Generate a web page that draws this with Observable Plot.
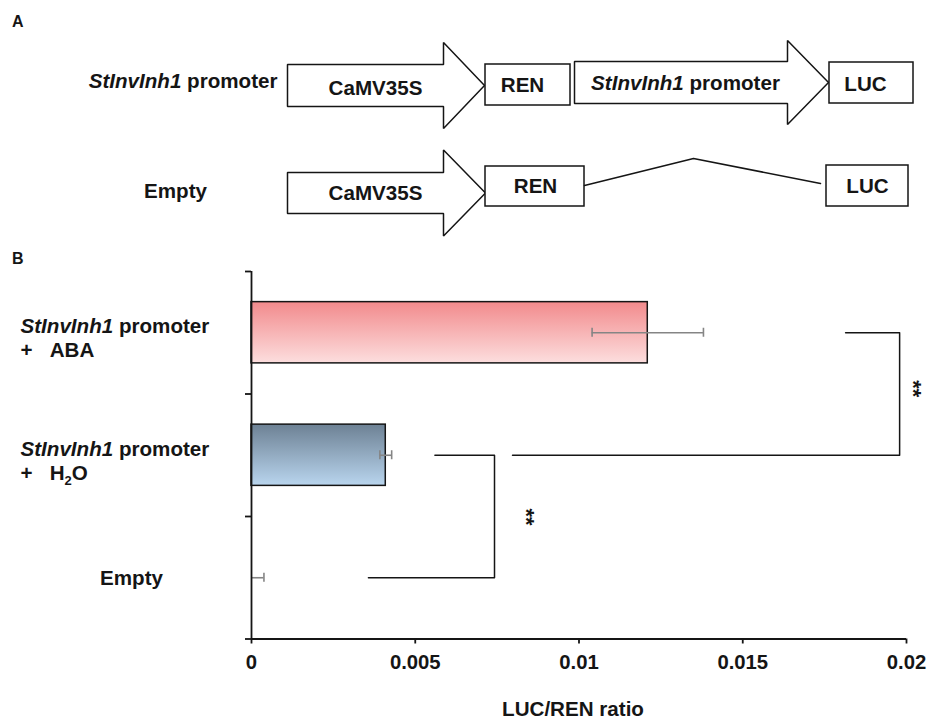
<!DOCTYPE html>
<html><head><meta charset="utf-8">
<script src="https://cdn.jsdelivr.net/npm/d3@7"></script>
<script src="https://cdn.jsdelivr.net/npm/@observablehq/plot@0.6"></script>
<style>
body{margin:0;background:#fff;}
#chart svg{display:block;}
</style></head><body><div id="chart"></div>
<script>
// ---------------- Panel B data ----------------
const categories = ["StInvInh1 promoter + ABA", "StInvInh1 promoter + H2O", "Empty"];
const ratio = [0.0121, 0.0041, 0.00003];
const sdev = [0.0017, 0.00018, 0.00035];
const labelLine1 = ["StInvInh1 promoter", "StInvInh1 promoter", "Empty"];
const labelLine2 = ["+\u00a0\u00a0\u00a0ABA", "+\u00a0\u00a0\u00a0H2O", ""];
const gradTop = ["#f28a8c", "#6d8194", "#ffffff"];
const gradBottom = ["#fcdede", "#b9d5ee", "#ffffff"];
const xTicks = [0, 0.005, 0.01, 0.015, 0.02];
const xTickLabels = ["0", "0.005", "0.01", "0.015", "0.02"];
const xTitle = "LUC/REN ratio";
// significance brackets
const bracketUpper = [1, 0];          // category index of upper arm
const bracketLower = [2, 1];          // category index of lower arm
const bracketUpperX = [0.0056, 0.01814];
const bracketLowerX = [0.00357, 0.00797];
const bracketSpineX = [0.00742, 0.01979];
const bracketLabel = ["**", "**"];
const bracketLabelX = [0.00839, 0.0202];
const bracketLabelY = [2.005, 0.957];

// ---------------- Panel A (schematic) data, diagram units ----------------
const arrowLabels = ["CaMV35S", "StInvInh1 promoter", "CaMV35S"];
const arrowX0 = [287, 574, 287];
const arrowHeadX = [443, 787, 443];
const arrowTipX = [484, 828, 485];
const arrowMidY = [85, 82, 192.5];
const arrowBodyHalf = [21, 21, 20.5];
const arrowHeadHalf = [43, 42, 43];
const arrowTextX = [375, 685, 375];
const arrowTextY = [87.5, 83, 192.5];
const boxLabels = ["REN", "LUC", "REN", "LUC"];
const boxX1 = [485, 829, 485, 826];
const boxX2 = [570, 913, 584, 908];
const boxY1 = [64, 62, 166, 165];
const boxY2 = [105, 103, 206, 206];
const boxTextX = [522, 865, 535, 867];
const boxTextY = [85, 84, 186, 186];
const constructNames = ["StInvInh1 promoter", "Empty"];
const constructX = [277, 175];
const constructY = [81, 191];
const linkerX = [584, 693, 820];
const linkerY = [185, 158, 183];

const FONT = "'Liberation Sans', Arial, Helvetica, sans-serif";
const INK = "#151515";
const FS = 20.6;

// ---------------- Panel A ----------------
const arrowPts = [];
arrowLabels.forEach((lab, i) => {
  const x0 = arrowX0[i], xh = arrowHeadX[i], xt = arrowTipX[i], yc = arrowMidY[i];
  const b = arrowBodyHalf[i], h = arrowHeadHalf[i];
  [[x0, yc], [x0, yc - b], [xh, yc - b], [xh, yc - h], [xt, yc], [xh, yc + h], [xh, yc + b], [x0, yc + b], [x0, yc]]
    .forEach(([x, y]) => arrowPts.push({id: i, x, y}));
});
const boxes = boxLabels.map((lab, i) => ({lab, x1: boxX1[i], x2: boxX2[i], y1: boxY1[i], y2: boxY2[i], tx: boxTextX[i], ty: boxTextY[i]}));
const arrowTexts = arrowLabels.map((lab, i) => ({lab, x: arrowTextX[i], y: arrowTextY[i]}));
const linker = linkerX.map((x, i) => ({x, y: linkerY[i]}));

const panelA = Plot.plot({
  width: 928, height: 245,
  marginTop: 0, marginRight: 0, marginBottom: 0, marginLeft: 0,
  x: {domain: [0, 928], axis: null},
  y: {domain: [0, 245], reverse: true, axis: null},
  style: {fontFamily: FONT, fontSize: FS + "px", fontWeight: "bold", background: "white", color: INK},
  marks: [
    Plot.line(arrowPts, {x: "x", y: "y", z: "id", stroke: INK, strokeWidth: 1.5, strokeLinejoin: "miter", fill: "white", curve: "linear"}),
    Plot.rect(boxes, {x1: "x1", x2: "x2", y1: "y1", y2: "y2", fill: "white", stroke: INK, strokeWidth: 1.5}),
    Plot.line(linker, {x: "x", y: "y", stroke: INK, strokeWidth: 1.5}),
    Plot.text(arrowTexts, {x: "x", y: "y", text: "lab", textAnchor: "middle", lineAnchor: "middle", fontSize: FS, fontWeight: "bold"}),
    Plot.text(boxes, {x: "tx", y: "ty", text: "lab", textAnchor: "middle", lineAnchor: "middle", fontSize: FS, fontWeight: "bold"}),
    Plot.text([0], {x: () => constructX[0], y: () => constructY[0], text: () => constructNames[0], textAnchor: "end", lineAnchor: "middle", fontSize: FS, fontWeight: "bold"}),
    Plot.text([1], {x: () => constructX[1], y: () => constructY[1], text: () => constructNames[1], textAnchor: "middle", lineAnchor: "middle", fontSize: FS, fontWeight: "bold"}),
    Plot.text(["A"], {x: () => 11.5, y: () => 21, text: d => d, textAnchor: "start", lineAnchor: "middle", fontSize: 16, fontWeight: "bold"})
  ]
});

// ---------------- Panel B ----------------
const rows = categories.map((c, i) => ({
  cat: c, i, value: ratio[i], err: sdev[i],
  y1: i + 0.25, y2: i + 0.75, yc: i + 0.5,
  lo: Math.max(0, ratio[i] - sdev[i]), hi: ratio[i] + sdev[i],
  l1: labelLine1[i], l2: labelLine2[i]
}));
const caps = [];
rows.forEach(r => {
  if (r.value - r.err >= 0) caps.push({x: r.value - r.err, yc: r.yc});
  caps.push({x: r.hi, yc: r.yc});
});
const bracketPts = [];
const bracketLabels = [];
bracketUpper.forEach((u, k) => {
  const l = bracketLower[k];
  [[bracketUpperX[k], u + 0.5], [bracketSpineX[k], u + 0.5], [bracketSpineX[k], l + 0.5], [bracketLowerX[k], l + 0.5]]
    .forEach(([x, y]) => bracketPts.push({id: k, x, y}));
  bracketLabels.push({x: bracketLabelX[k], y: bracketLabelY[k], t: bracketLabel[k]});
});

const gradients = () => {
  const defs = d3.create("svg:defs");
  rows.forEach((r, i) => {
    const g = defs.append("linearGradient").attr("id", "bargrad" + i)
      .attr("x1", 0).attr("y1", 0).attr("x2", 0).attr("y2", 1);
    g.append("stop").attr("offset", "0%").attr("stop-color", gradTop[i]);
    g.append("stop").attr("offset", "100%").attr("stop-color", gradBottom[i]);
  });
  return defs.node();
};

const panelB = Plot.plot({
  width: 928, height: 474,
  marginTop: 26, marginRight: 22, marginBottom: 80.5, marginLeft: 251,
  x: {domain: [0, 0.02]},
  y: {domain: [0, 3], reverse: true},
  style: {fontFamily: FONT, fontSize: FS + "px", fontWeight: "bold", background: "white", color: INK},
  marks: [
    gradients,
    ...rows.map((r, i) => Plot.rect([r], {x1: () => 0, x2: "value", y1: "y1", y2: "y2", fill: `url(#bargrad${i})`, stroke: r.value > 0.0001 ? INK : "none", strokeWidth: 1.5})),
    Plot.ruleY(rows, {y: "yc", x1: "lo", x2: "hi", stroke: "#858585", strokeWidth: 1.6}),
    Plot.ruleX(caps, {x: "x", y1: "yc", y2: "yc", insetTop: -4.5, insetBottom: -4.5, stroke: "#858585", strokeWidth: 1.6}),
    Plot.line(bracketPts, {x: "x", y: "y", z: "id", stroke: INK, strokeWidth: 1.5}),
    Plot.text(bracketLabels, {x: "x", y: "y", text: "t", rotate: 90, textAnchor: "middle", lineAnchor: "middle", fontSize: 22, fontWeight: "bold"}),
    Plot.ruleX([0], {stroke: INK, strokeWidth: 1.8}),
    Plot.ruleY([3], {stroke: INK, strokeWidth: 1.8}),
    Plot.axisY({ticks: [0, 1, 2, 3], tickSize: 6, tickFormat: () => "", label: null, stroke: INK, strokeWidth: 1.8}),
    Plot.axisX({ticks: xTicks, tickSize: 5, tickPadding: 11, tickFormat: (d) => xTickLabels[xTicks.indexOf(d)], label: null, stroke: INK, strokeWidth: 1.8, fontSize: 20.3, fontWeight: "bold"}),
    Plot.text(rows.filter(r => r.l2 !== ""), {frameAnchor: "left", y: "yc", text: "l1", dx: -231, dy: -6, textAnchor: "start", lineAnchor: "middle", fontSize: FS, fontWeight: "bold"}),
    Plot.text(rows.filter(r => r.l2 !== ""), {frameAnchor: "left", y: "yc", text: "l2", dx: -231, dy: 18, textAnchor: "start", lineAnchor: "middle", fontSize: FS, fontWeight: "bold"}),
    Plot.text(rows.filter(r => r.l2 === ""), {frameAnchor: "left", y: "yc", text: "l1", dx: -120, dy: 1, textAnchor: "middle", lineAnchor: "middle", fontSize: FS, fontWeight: "bold"}),
    Plot.text([xTitle], {frameAnchor: "bottom", text: d => d, dx: -6, dy: 70, textAnchor: "middle", lineAnchor: "middle", fontSize: FS, fontWeight: "bold"}),
    Plot.text(["B"], {frameAnchor: "top-left", text: d => d, dx: -239.5, dy: -13, textAnchor: "start", lineAnchor: "middle", fontSize: 16, fontWeight: "bold"})
  ]
});

const root = document.getElementById("chart");
root.appendChild(panelA);
root.appendChild(panelB);

// rich text: italic gene name, subscript in H2O
document.querySelectorAll("#chart text").forEach(t => {
  const s = t.textContent;
  if (s === "StInvInh1 promoter") {
    t.innerHTML = '<tspan font-style="italic">StInvInh1</tspan><tspan> promoter</tspan>';
  } else if (s.endsWith("H2O")) {
    const pre = s.slice(0, s.length - 3);
    t.innerHTML = '<tspan>' + pre + 'H</tspan><tspan dy="5" font-size="13">2</tspan><tspan dy="-5">O</tspan>';
  }
});
</script>
</body></html>
